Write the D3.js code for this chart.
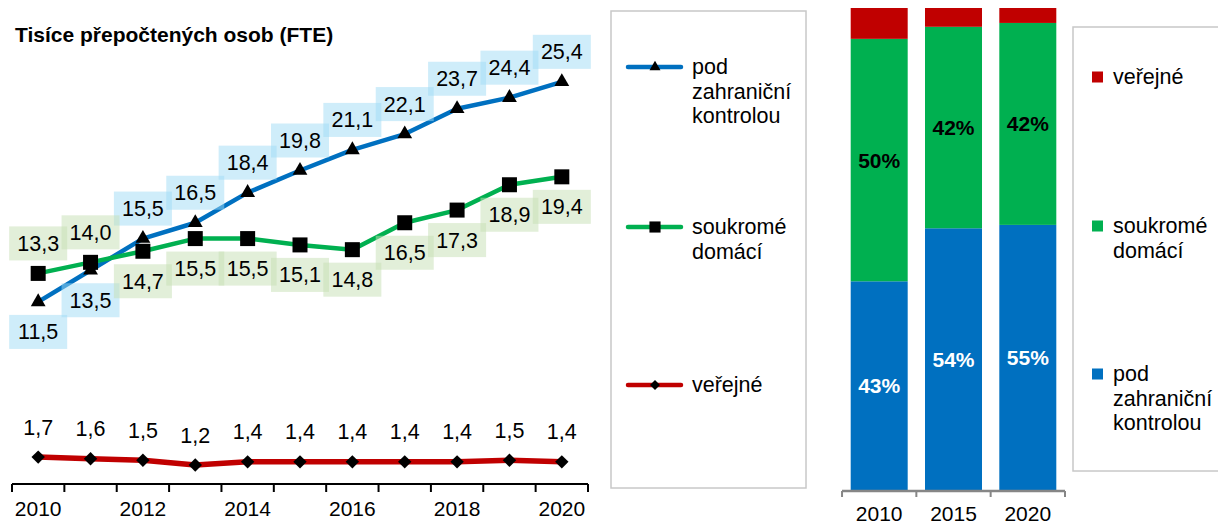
<!DOCTYPE html>
<html>
<head>
<meta charset="utf-8">
<script src="https://cdn.jsdelivr.net/npm/d3@7"></script>
<style>
  body { margin: 0; background: #fff; }
  svg { font-family: "Liberation Sans", Arial, sans-serif; }
</style>
</head>
<body>
<svg id="chart" width="1218" height="524"></svg>
<script>
// --- Data ---
const years = [2010, 2011, 2012, 2013, 2014, 2015, 2016, 2017, 2018, 2019, 2020];
const foreignVals = [11.5, 13.5, 15.5, 16.5, 18.4, 19.8, 21.1, 22.1, 23.7, 24.4, 25.4];
const domesticVals = [13.3, 14.0, 14.7, 15.5, 15.5, 15.1, 14.8, 16.5, 17.3, 18.9, 19.4];
const publicVals = [1.7, 1.6, 1.5, 1.2, 1.4, 1.4, 1.4, 1.4, 1.4, 1.5, 1.4];

// shares for the stacked bars (%)
const barYears = ["2010", "2015", "2020"];
const foreignShare = [43.3, 54.3, 55.0];
const domesticShare = [50.3, 41.8, 41.9];
const publicShare = [6.4, 3.9, 3.1];

const titleText = "Tisíce přepočtených osob (FTE)";

// which years get their label under the point
const foreignBelowYears = [2010, 2011];
const domesticAboveYears = [2010, 2011];

const BLUE = "#0070C0", GREEN = "#00B050", RED = "#C00000";

const svg = d3.select("#chart");
const fmt = v => d3.format(".1f")(v).replace(".", ",");

// --- Line chart ---
const x = d3.scaleBand().domain(years).range([12, 588]).padding(0);
const y = d3.scaleLinear().domain([0, 30]).range([484, 9]);
const cx = d => x(d) + x.bandwidth() / 2;

svg.append("text")
    .attr("x", 15).attr("y", 42)
    .style("font-size", "21px").style("font-weight", "bold")
    .text(titleText);

const series = [
    { key: "foreign", vals: foreignVals, color: BLUE, width: 4.5, symbol: "tri",
      labelSide: yr => foreignBelowYears.includes(yr) ? 1 : -1, bg: "rgba(160,220,245,0.5)" },
    { key: "domestic", vals: domesticVals, color: GREEN, width: 4.5, symbol: "sq",
      labelSide: yr => domesticAboveYears.includes(yr) ? -1 : 1, bg: "rgba(197,224,180,0.5)" },
    { key: "public", vals: publicVals, color: RED, width: 5.5, symbol: "dia",
      labelSide: () => -1, bg: null }
];

function markerPath(type, scale) {
    if (type === "tri") return d3.symbol(d3.symbolTriangle, 95 * scale)();
    if (type === "sq") return d3.symbol(d3.symbolSquare, 225 * scale)();
    return d3.symbol(d3.symbolSquare, 90 * scale)();
}

const line = d3.line().x((d, i) => cx(years[i])).y(d => y(d));

series.forEach(s => {
    svg.append("path")
        .attr("d", line(s.vals))
        .attr("fill", "none")
        .attr("stroke", s.color)
        .attr("stroke-width", s.width)
        .attr("stroke-linejoin", "round");

    svg.append("g").selectAll("path")
        .data(s.vals)
        .join("path")
        .attr("d", markerPath(s.symbol, 1))
        .attr("transform", (d, i) => `translate(${cx(years[i])},${y(d)})` + (s.symbol === "dia" ? " rotate(45)" : ""))
        .attr("fill", "#000");
});

// data labels
series.forEach(s => {
    const g = svg.append("g");
    s.vals.forEach((v, i) => {
        const lx = cx(years[i]);
        const ly = y(v) + s.labelSide(years[i]) * 30;
        if (s.bg) {
            g.append("rect")
                .attr("x", lx - 29).attr("y", ly - 17)
                .attr("width", 58).attr("height", 34)
                .attr("fill", s.bg);
        }
        g.append("text")
            .attr("x", lx).attr("y", ly + 7.5)
            .attr("text-anchor", "middle")
            .style("font-size", "21.5px")
            .attr("fill", "#000")
            .text(fmt(v));
    });
});

// x axis (ticks between categories, label every second year)
const axisG = svg.append("g");
axisG.append("line")
    .attr("x1", x.range()[0]).attr("x2", x.range()[1])
    .attr("y1", 484).attr("y2", 484)
    .attr("stroke", "#000").attr("stroke-width", 2);
axisG.selectAll("line.tick")
    .data(years.map(d => x(d)).concat([x.range()[1]]))
    .join("line")
    .attr("class", "tick")
    .attr("x1", d => d).attr("x2", d => d)
    .attr("y1", 484).attr("y2", 492)
    .attr("stroke", "#000").attr("stroke-width", 2);
axisG.selectAll("text")
    .data(years.filter((d, i) => i % 2 === 0))
    .join("text")
    .attr("x", d => cx(d)).attr("y", 516)
    .attr("text-anchor", "middle")
    .style("font-size", "21px")
    .text(d => d);

// left legend
svg.append("rect")
    .attr("x", 611).attr("y", 11).attr("width", 195).attr("height", 477)
    .attr("fill", "#fff").attr("stroke", "#c8c8c8").attr("stroke-width", 1.5);

const legendLeft = [
    { s: series[0], y: 67, lines: ["pod", "zahraniční", "kontrolou"] },
    { s: series[1], y: 227, lines: ["soukromé", "domácí"] },
    { s: series[2], y: 385, lines: ["veřejné"] }
];
legendLeft.forEach(item => {
    svg.append("line")
        .attr("x1", 628).attr("x2", 681)
        .attr("y1", item.y).attr("y2", item.y)
        .attr("stroke", item.s.color).attr("stroke-width", 4.5)
        .attr("stroke-linecap", "round");
    svg.append("path")
        .attr("d", markerPath(item.s.symbol, 0.55))
        .attr("transform", `translate(655,${item.y})` + (item.s.symbol === "dia" ? " rotate(45)" : ""))
        .attr("fill", "#000");
    const t = svg.append("text")
        .attr("x", 692).attr("y", item.y + 7)
        .style("font-size", "21.5px");
    item.lines.forEach((l, i) => {
        t.append("tspan").attr("x", 692).attr("dy", i === 0 ? 0 : 24.5).text(l);
    });
});

// --- Stacked bar chart ---
const bx = d3.scaleBand().domain(barYears).range([842, 1065]).paddingInner(0.233).paddingOuter(0.117);
const by = d3.scaleLinear().domain([0, 100]).range([490, 8]);

const barRows = barYears.map((yr, i) => ({
    year: yr, foreign: foreignShare[i], domestic: domesticShare[i], public: publicShare[i]
}));
const stack = d3.stack().keys(["foreign", "domestic", "public"]);
const stacked = stack(barRows);
const barColors = { foreign: BLUE, domestic: GREEN, public: RED };

stacked.forEach(layer => {
    svg.append("g").selectAll("rect")
        .data(layer)
        .join("rect")
        .attr("x", d => bx(d.data.year))
        .attr("width", bx.bandwidth())
        .attr("y", d => by(d[1]))
        .attr("height", d => by(d[0]) - by(d[1]))
        .attr("fill", barColors[layer.key]);
});

// percentage labels on blue and green segments
stacked.filter(l => l.key !== "public").forEach(layer => {
    svg.append("g").selectAll("text")
        .data(layer)
        .join("text")
        .attr("x", d => bx(d.data.year) + bx.bandwidth() / 2)
        .attr("y", d => (by(d[0]) + by(d[1])) / 2 + 7.5)
        .attr("text-anchor", "middle")
        .style("font-size", "21px").style("font-weight", "bold")
        .attr("fill", layer.key === "foreign" ? "#fff" : "#000")
        .text(d => Math.round(d[1] - d[0]) + "%");
});

// bar axis
const step = bx.step();
const bAxis = svg.append("g");
bAxis.append("line")
    .attr("x1", 842).attr("x2", 1065).attr("y1", 491).attr("y2", 491)
    .attr("stroke", "#868686").attr("stroke-width", 2.5);
bAxis.selectAll("line.tick")
    .data(barYears.map(d => bx(d) - step * bx.paddingInner() / 2).concat([1065]))
    .join("line")
    .attr("class", "tick")
    .attr("x1", d => d).attr("x2", d => d)
    .attr("y1", 491).attr("y2", 497)
    .attr("stroke", "#868686").attr("stroke-width", 2);
bAxis.selectAll("text")
    .data(barYears)
    .join("text")
    .attr("x", d => bx(d) + bx.bandwidth() / 2).attr("y", 521)
    .attr("text-anchor", "middle")
    .style("font-size", "21px")
    .text(d => d);

// right legend
svg.append("rect")
    .attr("x", 1073).attr("y", 27).attr("width", 160).attr("height", 444)
    .attr("fill", "#fff").attr("stroke", "#c8c8c8").attr("stroke-width", 1.5);

const legendRight = [
    { color: RED, y: 77, lines: ["veřejné"] },
    { color: GREEN, y: 226, lines: ["soukromé", "domácí"] },
    { color: BLUE, y: 374, lines: ["pod", "zahraniční", "kontrolou"] }
];
legendRight.forEach(item => {
    svg.append("rect")
        .attr("x", 1092).attr("y", item.y - 5.5).attr("width", 11).attr("height", 11)
        .attr("fill", item.color);
    const t = svg.append("text")
        .attr("x", 1113).attr("y", item.y + 7)
        .style("font-size", "21.5px");
    item.lines.forEach((l, i) => {
        t.append("tspan").attr("x", 1113).attr("dy", i === 0 ? 0 : 24.5).text(l);
    });
});
</script>
</body>
</html>
